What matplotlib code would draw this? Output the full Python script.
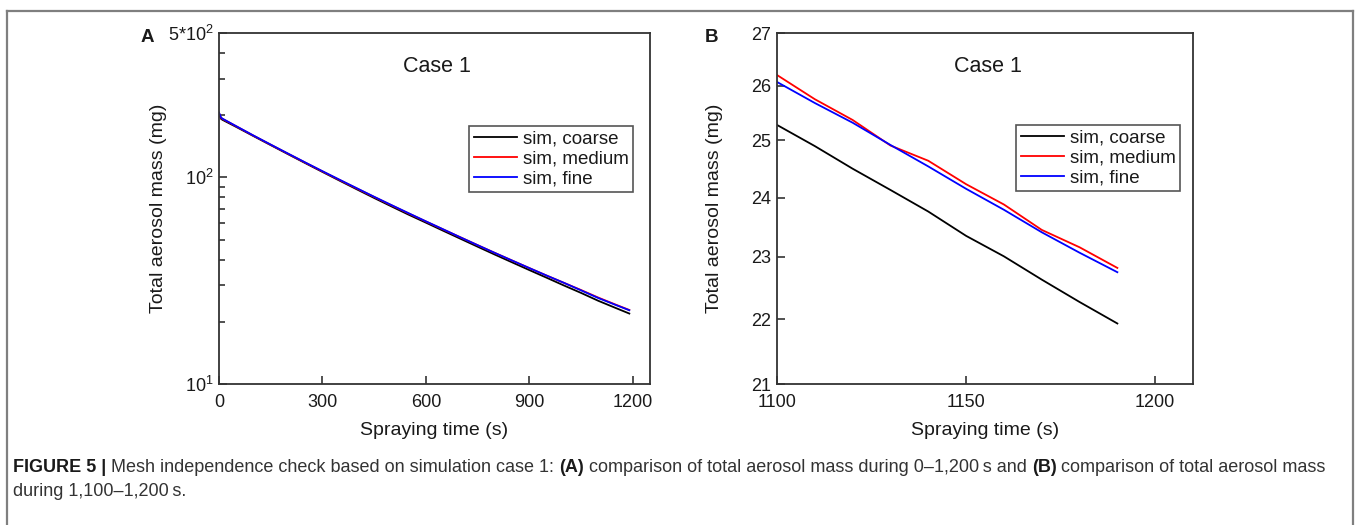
import matplotlib
matplotlib.use("Agg")
import matplotlib.pyplot as plt
from matplotlib.lines import Line2D
from matplotlib.ticker import FixedLocator, FixedFormatter, NullFormatter, NullLocator

plt.rcParams['font.family'] = ['Liberation Sans', 'DejaVu Sans']
plt.rcParams['mathtext.fontset'] = 'custom'
plt.rcParams['mathtext.rm'] = 'Liberation Sans'
plt.rcParams['mathtext.it'] = 'Liberation Sans:italic'

W, H = 1357, 525

# panel A: whole spraying period, log scale
time_a = [0, 3, 6, 10, 50, 100, 150, 200, 250, 300, 350, 400, 450, 500, 550, 600,
          650, 700, 750, 800, 850, 900, 950, 1000, 1050, 1100, 1150, 1190]
coarse_a = [204, 197, 192, 190, 175.5, 158.5, 143.3, 129.6, 117.3, 106.3, 96.4, 87.5,
            79.5, 72.4, 66.0, 60.4, 55.2, 50.5, 46.2, 42.3, 38.8, 35.6, 32.7, 30.0,
            27.6, 25.28, 23.35, 21.93]
medium_a = [205, 199, 194, 192, 176.7, 159.2, 143.9, 130.2, 117.9, 106.9, 97.1, 88.3,
            80.4, 73.3, 66.9, 61.2, 56.0, 51.3, 47.0, 43.1, 39.6, 36.4, 33.5, 30.9,
            28.5, 26.2, 24.24, 22.82]
fine_a = [206, 200, 195, 192.5, 177, 159.5, 144.2, 130.5, 118.2, 107.2, 97.4, 88.6,
          80.6, 73.5, 67.1, 61.3, 56.1, 51.3, 47.0, 43.1, 39.6, 36.4, 33.5, 30.9,
          28.4, 26.07, 24.15, 22.75]

# panel B: last 100 s
time_b = [1100, 1110, 1120, 1130, 1140, 1150, 1160, 1170, 1180, 1190]
coarse_b = [25.28, 24.90, 24.50, 24.13, 23.76, 23.35, 23.01, 22.63, 22.27, 21.93]
medium_b = [26.20, 25.75, 25.37, 24.91, 24.64, 24.23, 23.88, 23.45, 23.16, 22.82]
fine_b = [26.07, 25.68, 25.32, 24.92, 24.54, 24.15, 23.79, 23.41, 23.07, 22.75]

labels = ['sim, coarse', 'sim, medium', 'sim, fine']
colors = ['#000000', '#ff0000', '#0000ff']

ticks_a = [0, 300, 600, 900, 1200]
ticks_b = [1100, 1150, 1200]
yticks_b = [21, 22, 23, 24, 25, 26, 27]


def px(x0, y0, x1, y1):
    # pixel box (top-left origin) -> figure fraction rect
    return [x0 / W, 1 - y1 / H, (x1 - x0) / W, (y1 - y0) / H]


def style_axes(ax):
    for s in ax.spines.values():
        s.set_color('#333333')
        s.set_linewidth(1.3)
    ax.tick_params(which='both', direction='in', top=False, right=False,
                   colors='#333333', labelcolor='#1a1a1a', labelsize=13, width=1.2)
    ax.tick_params(which='major', length=6, pad=4)
    ax.tick_params(axis='x', which='major', pad=7)
    ax.tick_params(which='minor', length=4)
    ax.set_xlabel('Spraying time (s)', fontsize=14, color='#1a1a1a', labelpad=8)
    ax.set_ylabel('Total aerosol mass (mg)', fontsize=14, color='#1a1a1a')
    ax.text(0.506, 0.905, 'Case 1', transform=ax.transAxes, ha='center', va='center',
            fontsize=15.5, color='#1a1a1a')


def add_legend(ax, x_right, y_top):
    handles = [Line2D([], [], color=c, lw=1.3) for c in colors]
    leg = ax.legend(handles, labels, loc='upper right', bbox_to_anchor=(x_right, y_top),
                    borderaxespad=0, fontsize=13.5, fancybox=False, framealpha=1,
                    edgecolor='#555555', handlelength=2.3, handletextpad=0.3,
                    borderpad=0.25, labelspacing=0.15)
    leg.get_frame().set_linewidth(1.2)
    for t in leg.get_texts():
        t.set_color('#1a1a1a')


fig = plt.figure(figsize=(W / 100, H / 100), dpi=100)

# outer frame of the figure panel
for xs, ys in [([7, 1353], [11, 11]), ([7, 7], [11, H]), ([1353, 1353], [11, H])]:
    fig.add_artist(Line2D([x / W for x in xs], [1 - y / H for y in ys],
                          color='#7f7f7f', lw=1.6))

# ---- panel A
ax1 = fig.add_axes(px(219, 33, 650, 384))
for y, c in zip([coarse_a, medium_a, fine_a], colors):
    ax1.plot(time_a, y, color=c, lw=1.3)
ax1.set_yscale('log')
ax1.set_xlim(0, 1250)
ax1.set_ylim(10, 500)
ax1.xaxis.set_major_locator(FixedLocator(ticks_a))
ax1.xaxis.set_minor_locator(NullLocator())
ax1.yaxis.set_major_locator(FixedLocator([10, 100, 500]))
ax1.yaxis.set_major_formatter(FixedFormatter([r'$\mathregular{10^1}$', r'$\mathregular{10^2}$',
                                              r'$\mathregular{5{*}10^2}$']))
ax1.yaxis.set_minor_locator(FixedLocator([20, 30, 40, 50, 60, 70, 80, 90, 200, 300, 400]))
ax1.yaxis.set_minor_formatter(NullFormatter())
style_axes(ax1)
ax1.yaxis.set_label_coords(-0.12, 0.5)
add_legend(ax1, 0.961, 0.735)

# ---- panel B
ax2 = fig.add_axes(px(777, 33, 1193, 384))
for y, c in zip([coarse_b, medium_b, fine_b], colors):
    ax2.plot(time_b, y, color=c, lw=1.3)
ax2.set_yscale('log')
ax2.set_xlim(1100, 1210)
ax2.set_ylim(21, 27)
ax2.xaxis.set_major_locator(FixedLocator(ticks_b))
ax2.xaxis.set_minor_locator(NullLocator())
ax2.yaxis.set_major_locator(FixedLocator(yticks_b))
ax2.yaxis.set_major_formatter(FixedFormatter([str(v) for v in yticks_b]))
ax2.yaxis.set_minor_locator(NullLocator())
ax2.yaxis.set_minor_formatter(NullFormatter())
style_axes(ax2)
ax2.yaxis.set_label_coords(-0.13, 0.5)
add_legend(ax2, 0.969, 0.738)

# panel letters
fig.text(141 / W, 1 - 38 / H, 'A', fontsize=13.5, fontweight='bold', color='#1a1a1a',
         va='center', ha='left')
fig.text(705 / W, 1 - 38 / H, 'B', fontsize=13.5, fontweight='bold', color='#1a1a1a',
         va='center', ha='left')

# caption with bold fragments
caption = [
    [('FIGURE 5 | ', 'bold'), ('Mesh independence check based on simulation case 1: ', 'normal'),
     ('(A)', 'bold'), (' comparison of total aerosol mass during 0\u20131,200\u2009s and ', 'normal'),
     ('(B)', 'bold'), (' comparison of total aerosol mass', 'normal')],
    [('during 1,100\u20131,200\u2009s.', 'normal')],
]
fig.canvas.draw()
renderer = fig.canvas.get_renderer()
for row, y in zip(caption, [468, 492]):
    x = 13
    for txt, weight in row:
        t = fig.text(x / W, 1 - y / H, txt, fontsize=13.0, fontweight=weight,
                     color='#1a1a1a' if weight == 'bold' else '#333333',
                     va='center', ha='left')
        bb = t.get_window_extent(renderer)
        x += bb.width

fig.savefig('out.png', dpi=100)
